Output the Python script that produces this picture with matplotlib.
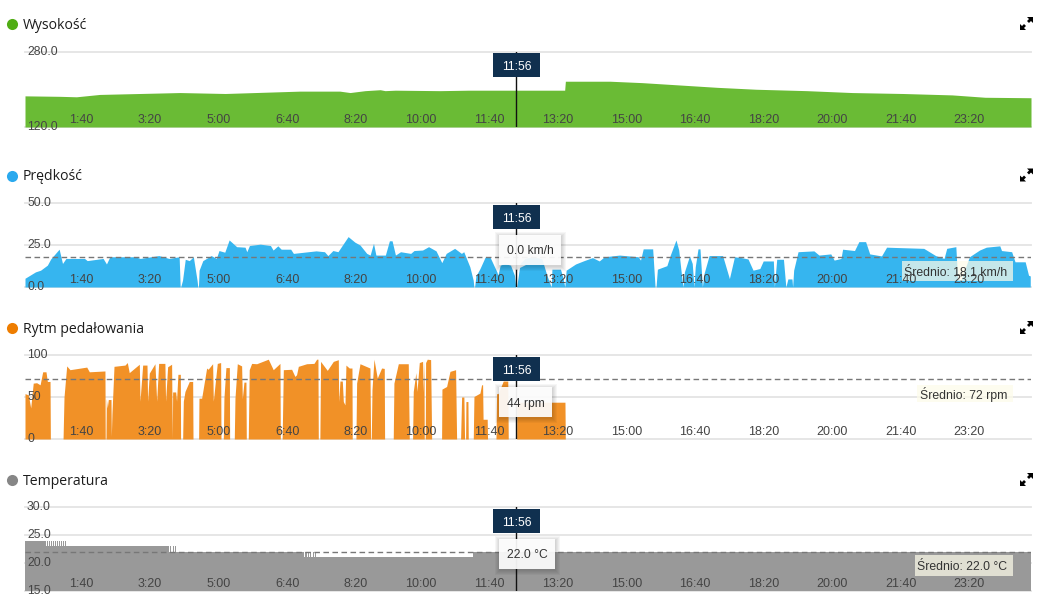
import numpy as np
import matplotlib
matplotlib.use('Agg')
import matplotlib.pyplot as plt
from matplotlib.patches import Rectangle, Polygon

# time axis is in "mm:ss" units (labels show 1:40 for 100, 3:20 for 200 ...)
T_MAX = 1467
CURSOR = 716
tick_pos = [100, 200, 300, 400, 500, 600, 700, 800, 900, 1000, 1100, 1200, 1300, 1400]
tick_labels = ['1:40', '3:20', '5:00', '6:40', '8:20', '10:00', '11:40', '13:20',
               '15:00', '16:40', '18:20', '20:00', '21:40', '23:20']

alt_t = [0, 51, 75, 109, 226, 292, 401, 459, 474, 496, 518, 525, 540, 605, 647, 787, 788,
         853, 900, 955, 1010, 1066, 1140, 1206, 1280, 1352, 1400, 1467]
alt_v = [186, 185, 184, 189, 193, 191, 196, 196, 193, 197, 199, 197, 198, 197, 198, 198, 217,
         217, 214, 209, 204, 200, 197, 193, 191, 188, 183, 182]

speed_t = [0, 15.3, 22.7, 32.6, 37.5, 49.8, 54.7, 59.7, 86.8, 90.7, 113.9, 118.8, 123.7,
           160.7, 168, 195.2, 210, 224.8, 226.3, 227, 229.7, 233.7, 239.6, 245.5, 250.9,
           252, 252.9, 253.9, 259.3, 271.6, 279, 282.9, 291.3, 297.7, 308.6, 320.9, 323.4,
           327.3, 343.1, 357.9, 361.8, 368.7, 373.6, 387.4, 391.4, 424.4, 436.7, 441.7,
           449, 456.4, 471.2, 481, 488.5, 498.3, 503.3, 508.2, 511.7, 525.5, 531.4, 535.3,
           540.2, 547.6, 562.4, 567.3, 579.7, 588.5, 599.4, 607.8, 614.2, 626.5, 636.4,
           639.8, 648.7, 653.6, 654.6, 655.6, 657.6, 663.5, 670.9, 678.2, 688.1, 689.6,
           693, 700, 708, 713.7, 715.7, 717, 722, 729, 739, 753.6, 761, 767.4, 768.4,
           780.8, 784.2, 787.2, 789.1, 802.9, 815.3, 827.6, 837.4, 844.8, 867, 894.1,
           897.6, 901.5, 915.3, 918.8, 920.2, 922.2, 936, 941, 949.3, 953.3, 958.2, 959.7,
           961.6, 969, 973, 975.5, 977.4, 981.4, 984.3, 987.8, 990.2, 997.6, 1017.3,
           1027.2, 1034.6, 1044.5, 1054.3, 1061.7, 1071.6, 1076.5, 1091.3, 1092.8, 1096.2,
           1106, 1109.5, 1112.5, 1118.4, 1119.4, 1120.9, 1127.3, 1150.4, 1157.8, 1175,
           1180, 1189.9, 1192.3, 1209.6, 1216, 1225.8, 1231.8, 1249, 1256.4, 1271.2,
           1310.6, 1327.9, 1340.2, 1344.1, 1357.4, 1359.9, 1364.8, 1377.2, 1392, 1401.8,
           1421.5, 1424, 1438.8, 1443.7, 1458.5, 1463.4, 1465.9]
speed_v = [5.2, 9, 10, 13, 16.7, 22.5, 14, 17, 17, 15.7, 17, 13.7, 18,
           18, 17, 18.7, 17, 18, 0, 0, 4, 16.5, 15.7, 18, 4,
           0, 0, 10, 15.7, 18.7, 17, 21.7, 20.7, 28, 24, 23.7, 21,
           24.7, 25.5, 24.7, 22, 24.5, 22.5, 22.5, 20, 21.5, 21, 18.7,
           21.7, 21, 30, 26.7, 25, 20, 19, 26, 19, 19, 27.5, 27.5,
           19, 21, 20, 21.7, 22, 24, 21.5, 14.5, 20, 23, 20,
           21, 12, 4, 0, 0, 6.6, 11, 17.7, 17.7, 9, 7,
           13, 14, 13, 7, 0, 0, 14, 17, 18, 17, 7, 0, 10.6,
           10.6, 6, 0, 10, 13.7, 15.7, 17.5, 15.5, 18, 19, 18,
           16, 22.7, 22.7, 0, 0, 10.6, 12.7, 19, 28, 22, 4, 0,
           9, 18.5, 14, 0, 12, 22.7, 22.7, 0, 8, 18.7, 18.7,
           5, 18, 17.5, 16.7, 10, 11, 15.5, 15.5, 0, 16.5,
           16.5, 0, 4.8, 4.8, 0, 10, 21, 21.5, 19, 19.7,
           16, 17, 22.5, 21.7, 27, 27, 19.7, 18.5, 23.7, 23.5,
           23, 18.7, 17, 23, 24, 5, 4, 18, 22, 23.7,
           24.5, 21.7, 21, 15, 15, 7, 6.6]

cad_t = [0, 4.9, 8.3, 12, 17, 22, 25.8, 30.6, 32.6, 36.5, 37, 55.5, 56.9, 60.8, 65.6, 90,
         93.8, 116.6, 117, 118.1, 118.6, 120, 121.5, 125.4, 125.9, 126.8, 129.8, 145.8,
         149.2, 152, 166.7, 167.7, 171.6, 177.9, 178.8, 181.3, 189.5, 192, 194.9, 204, 205,
         208, 213.8, 214.8, 215.3, 219.7, 221, 223, 226.5, 226.9, 229.9, 230.9, 233.3,
         239.6, 244.5, 245, 253.2, 253.7, 257.6, 264.9, 267, 273.6, 274.6, 280.4, 285.3,
         285.8, 289.2, 290.1, 293, 298, 298.4, 305.2, 306.2, 309.6, 315.9, 316.9, 319.3,
         322.2, 322.7, 325.6, 327, 330.5, 337.8, 354.8, 362, 371.8, 372.3, 375, 376.7,
         388.8, 393.6, 396, 398.6, 410.7, 421.4, 425.3, 427.2, 427.7, 430, 431, 440.8,
         449.6, 456.9, 457.4, 459.3, 462.7, 464.2, 466.6, 468, 472.9, 476.8, 477.2, 482.6,
         483.6, 488.5, 503, 504, 505, 506, 508.9, 513.7, 520, 523.9, 524.4, 537, 538,
         544.4, 558.9, 560.4, 565.2, 566.2, 570, 571.6, 575, 579.8, 580.8, 581.8, 582.2,
         583.7, 584.2, 586.6, 591.5, 593, 607.5, 608, 614.8, 619.7, 627.9, 629.4, 635.2,
         636.7, 640, 641, 642.5, 643, 645.9, 646.4, 653.7, 654.7, 663.4, 665.8, 667.3, 668,
         674, 674.5, 686.8, 687.7, 690, 697.4, 704, 704.7, 716.9, 717.4, 787.4, 787.9,
         T_MAX]
cad_v = [54, 52.6, 37, 66.5, 67, 64.5, 80, 80, 68.5, 68.5, 0, 0, 50, 87, 82.5, 85.6,
         80, 81, 0, 0, 48, 37, 47, 47, 3, 30, 86.5, 88,
         91, 79, 89, 45, 88, 88, 45, 78.5, 89.6, 45, 90, 90, 45,
         86, 89, 0, 56, 56, 45, 77, 77, 0, 0, 45, 56.6,
         68.5, 68.5, 0, 0, 48.6, 48.6, 84.5, 83, 89.6, 45, 90, 91,
         0, 0, 48.6, 85, 85, 0, 0, 48.6, 89.6, 87, 48, 67.7,
         67.7, 0, 0, 82.5, 90, 89.6, 95, 82.5, 90, 0, 0, 82.5,
         83, 74.5, 76.5, 86.5, 89.6, 90, 95, 95, 0, 0, 92.4, 81.7,
         92.4, 94.4, 44.6, 69, 69, 44.6, 40.6, 88, 84.5, 84.5, 0, 0,
         66.5, 89.6, 84.5, 0, 0, 58.6, 95, 72.5, 84.5, 84, 0, 0, 66.5,
         89.6, 89.6, 0, 0, 56.6, 79, 56.6, 91, 92.4, 56, 93.6, 0,
         0, 91, 95, 94.5, 0, 0, 59.4, 62.5, 80.5, 82.5, 0, 0,
         50, 50, 0, 0, 44.6, 44.6, 0, 0, 50.6, 54.6, 64.5, 64.5, 23.5,
         23.5, 0, 0, 54, 54, 69, 69, 0, 0, 43.8, 43.8, 0,
         0]

# stepped series, the flicker sections switch every few seconds
temp_t = [0, 30, 31.5, 33, 34.5, 36, 37.5, 39, 40.5, 42, 43.5, 45, 46.5, 48, 49.5, 51, 52.5,
          54, 55.5, 57, 58.5, 60,
          210, 212, 213.5, 215.5, 217, 219, 220.5, 222.3,
          407, 409, 410.5, 412.5, 414, 416, 417.5, 419.5, 421, 423, 424.5, 427, 653.6, T_MAX]
temp_v = [24, 23, 24, 23, 24, 23, 24, 23, 24, 23, 24, 23, 24, 23, 24, 23, 24,
          23, 24, 23, 24, 23,
          22, 23, 22, 23, 22, 23, 22, 22,
          21, 22, 21, 22, 21, 22, 21, 22, 21, 22, 21, 21, 22, 22]

mean_speed = 18.1
mean_cad = 72
mean_temp = 22.0

titles = ['Wysokość', 'Prędkość', 'Rytm pedałowania', 'Temperatura']
dot_colors = ['#50ad14', '#2aa9ee', '#ee7d00', '#868686']
fill_colors = ['#6abb35', '#36b5ef', '#f19127', '#999999']
y_limits = [(120, 280), (0, 50), (0, 100), (15, 30)]
y_ticks = [[120, 280], [0, 25, 50], [0, 50, 100], [15, 20, 25, 30]]
y_labels = [['120.0', '280.0'], ['0.0', '25.0', '50.0'], ['0', '50', '100'],
            ['15.0', '20.0', '25.0', '30.0']]
tooltips = ['', '0.0 km/h', '44 rpm', '22.0 °C']
mean_labels = ['', 'Średnio: 18.1 km/h', 'Średnio: 72 rpm', 'Średnio: 22.0 °C']
means = [None, mean_speed, mean_cad, mean_temp]

# pixel layout of the page
W, H = 1055, 600
LEFT, RIGHT = 25, 1031
tops = [51.5, 203, 355, 507]
bottoms = [127, 287, 439, 591]
title_y = [24, 175.5, 328, 480]
tip_box = [None, (499, 235, 561, 265), (499, 387, 552, 417), (499, 539, 555, 569)]
mean_box = [None, (902, 261, 1013, 281), (917, 385, 1013, 402), (915, 555, 1013, 576)]

TICK_FONT = ['Liberation Sans', 'DejaVu Sans']
TITLE_FONT = ['Open Sans', 'DejaVu Sans']

fig = plt.figure(figsize=(W / 100, H / 100), dpi=100, facecolor='white')


def add_panel(i):
    ax = fig.add_axes([LEFT / W, 1 - bottoms[i] / H, (RIGHT - LEFT) / W, (bottoms[i] - tops[i]) / H])
    ax.set_xlim(0, T_MAX)
    ax.set_ylim(*y_limits[i])
    ax.patch.set_alpha(0)
    for s in ax.spines.values():
        s.set_visible(False)
    ax.set_xticks([])
    ax.set_yticks([])
    for y in y_ticks[i]:
        ax.axhline(y, color='#e4e4e4', lw=1.3, zorder=1, clip_on=False)
    return ax


axes = [add_panel(i) for i in range(4)]
axes[0].fill_between(alt_t, alt_v, 120, color=fill_colors[0], lw=0, zorder=2)
axes[1].fill_between(speed_t, speed_v, 0, color=fill_colors[1], lw=0, zorder=2)
axes[2].fill_between(cad_t, cad_v, 0, color=fill_colors[2], lw=0, zorder=2)
axes[3].fill_between(temp_t, temp_v, 15, step='post', color=fill_colors[3], lw=0, zorder=2)

# everything that sits on top of the charts is placed in page pixels
over = fig.add_axes([0, 0, 1, 1], zorder=10)
over.set_xlim(0, W)
over.set_ylim(H, 0)
over.axis('off')

for i, ax in enumerate(axes):
    if means[i] is not None:
        ax.axhline(means[i], color='#777777', lw=1, dashes=(4, 2.5), zorder=3)
    ax.axvline(CURSOR, color='#111111', lw=1, zorder=4)
    # the average box lies under the time labels
    if mean_box[i] is not None:
        x0, y0, x1, y1 = mean_box[i]
        ax.add_patch(Rectangle((x0, y0), x1 - x0, y1 - y0, facecolor='#fdfbe9', alpha=0.72, lw=0,
                               transform=over.transData, clip_on=False, zorder=4.5))
    trans = ax.get_xaxis_transform()
    for pos, lab in zip(tick_pos, tick_labels):
        ax.annotate(lab, (pos, 0), xycoords=trans, xytext=(0, 7), textcoords='offset pixels',
                    ha='right', va='center', fontsize=9, color='#444444', family=TICK_FONT,
                    annotation_clip=False, zorder=5)


def expand_icon(cx, cy):
    # two small arrows pointing to opposite corners
    for sx, sy in [(1, -1), (-1, 1)]:
        over.add_patch(Polygon([(cx + sx * 6.5, cy + sy * 6.5), (cx + sx * 0.5, cy + sy * 6.5),
                                (cx + sx * 6.5, cy + sy * 0.5)], closed=True, color='black', lw=0))
        over.plot([cx + sx * 1.5, cx + sx * 4], [cy + sy * 1.5, cy + sy * 4], color='black', lw=2,
                  solid_capstyle='butt')


for i in range(4):
    over.scatter([12], [title_y[i]], s=64, color=dot_colors[i], lw=0)
    over.text(23, title_y[i] + 1.5, titles[i], fontsize=10.1, va='center', ha='left', color='#1c1c1c',
              family=TITLE_FONT)
    expand_icon(1026.5, title_y[i] - 0.5)

    # y labels overlap the area
    for y, lab in zip(y_ticks[i], y_labels[i]):
        py = bottoms[i] - (y - y_limits[i][0]) / (y_limits[i][1] - y_limits[i][0]) * (bottoms[i] - tops[i])
        over.text(27, py + 0.2, lab, fontsize=8.7, va='center', ha='left', color='#444444', family=TICK_FONT)

    # time badge
    over.add_patch(Rectangle((493, tops[i] + 1.5), 47, 24, color='#10304f', lw=0))
    over.text(516.5, tops[i] + 15.5, '11:56', fontsize=8.8, color='white', ha='center', va='center',
              family=TICK_FONT)

    if tip_box[i] is not None:
        x0, y0, x1, y1 = mean_box[i]
        over.text(1007.5, (y0 + y1) / 2 + 1.5, mean_labels[i], fontsize=8.8, color='#333333', ha='right',
                  va='center', family=TICK_FONT)

        x0, y0, x1, y1 = tip_box[i]
        # soft shadow from a few stacked rectangles
        for grow in [5, 4, 3, 2, 1]:
            over.add_patch(Rectangle((x0 + 1 - grow, y0 + 2 - grow), x1 - x0 + 2 * grow - 1,
                                     y1 - y0 + 2 * grow - 1, color='black', alpha=0.035, lw=0))
        over.add_patch(Rectangle((x0, y0), x1 - x0, y1 - y0, facecolor='white', alpha=0.92, lw=0))
        if i == 1:
            over.add_patch(Polygon([(512, y1), (526, y1), (516, y1 + 5)], closed=True, color='#dddddd',
                                   alpha=0.9, lw=0))
        over.text((x0 + x1) / 2, (y0 + y1) / 2 + 1.5, tooltips[i], fontsize=8.7, color='#333333',
                  ha='center', va='center', family=TICK_FONT)

fig.savefig('out.png', dpi=100)
